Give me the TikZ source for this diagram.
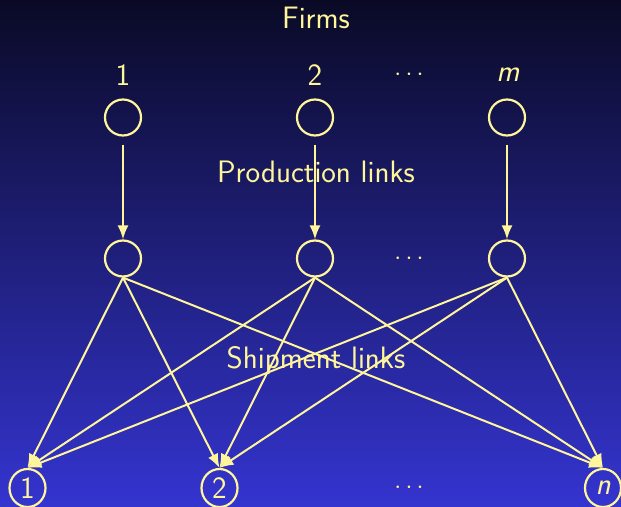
\documentclass[tikz,border=0pt]{standalone}
\usepackage{fontspec}
\usetikzlibrary{arrows.meta,shapes.geometric}
\definecolor{fg}{HTML}{FFF59A}
\definecolor{bgtop}{RGB}{10,10,38}
\definecolor{bgbot}{RGB}{52,52,208}
\tikzset{
  firm/.style={circle,draw=fg,line width=2.2pt,minimum size=36pt,inner sep=0pt},
  mkt/.style={ellipse,draw=fg,line width=2.2pt,minimum width=36pt,minimum height=38pt,inner sep=0pt,text=fg},
  lbl/.style={text=fg,font=\fontsize{31}{36}\selectfont\sffamily},
  link/.style={draw=fg,line width=2pt,-{Latex[length=14pt,width=11pt]}},
}
\begin{document}
\begin{tikzpicture}[x=1pt,y=-1pt]
\useasboundingbox (0,0) rectangle (621,506);
\shade[top color=bgtop,bottom color=bgbot] (0,0) rectangle (621,506);
\node[lbl] (firms) at (316,18) {Firms};
\node[lbl] (l1) at (123,75) {1};
\node[lbl] (l2) at (315,75) {2};
\node[lbl] (lm) at (508,75) {\itshape m};
\node[lbl] (d1) at (409,75) {$\cdots$};
\node[firm] (t1) at (123,117.5) {};
\node[firm] (t2) at (315,117.5) {};
\node[firm] (tm) at (507,117.5) {};
\node[firm] (m1) at (123,258.5) {};
\node[firm] (m2) at (315,258.5) {};
\node[firm] (mm) at (507,258.5) {};
\node[lbl] (d2) at (409,259) {$\cdots$};
\node[mkt,lbl] (b1) at (27.5,488) {1};
\node[mkt,lbl] (b2) at (219.5,488) {2};
\node[mkt,lbl] (bn) at (603,488) {\itshape n};
\node[lbl] (d3) at (409,488) {$\cdots$};
\foreach \a/\b in {t1/m1,t2/m2,tm/mm}
  \draw[link,shorten <=8pt] (\a) -- (\b);
\foreach \a in {m1,m2,mm}
  \foreach \b in {b1,b2,bn}
    \draw[link] (\a.south) -- (\b.north);
\node[lbl] (prod) at (316,172) {Production links};
\node[lbl] (ship) at (316,361) {Shipment links};
\end{tikzpicture}
\end{document}
